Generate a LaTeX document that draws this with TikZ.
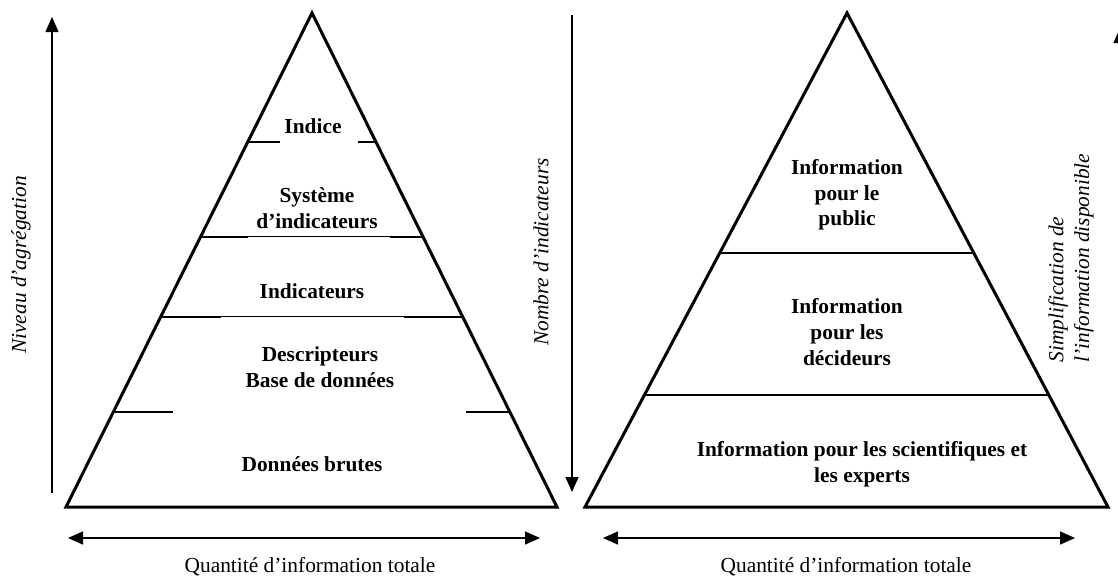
\documentclass[tikz,border=0pt]{standalone}
\usepackage{fontspec}
\setmainfont{Liberation Serif}
\usetikzlibrary{arrows.meta,calc,positioning}

\begin{document}
\begin{tikzpicture}[x=0.5pt,y=-0.5pt,
    every node/.style={font=\fontsize{10.7}{12.8}\selectfont, inner sep=0pt},
    level/.style={font=\fontsize{10.7}{12.8}\selectfont\bfseries, align=center},
    axis/.style={font=\fontsize{10.7}{12.8}\selectfont\itshape, rotate=90, align=left},
    axe/.style={-{Triangle[length=7.5pt,width=6.5pt]}, line width=0.75pt},
    axes/.style={{Triangle[length=7.5pt,width=6.5pt]}-{Triangle[length=7.5pt,width=6.5pt]}, line width=0.75pt},
    pyr/.style={line width=1.5pt, line join=miter},
    cut/.style={line width=1pt},
    fine/.style={line width=0.5pt}]
  \useasboundingbox (0,0) rectangle (1118,579);

  % left pyramid
  \coordinate (ltop) at (312,13);
  \coordinate (lbl) at (66,507);
  \coordinate (lbr) at (557,507);
  \draw[pyr] (ltop) -- (lbl) -- (lbr) -- cycle;

  \draw[cut] ($(ltop)!0.261!(lbl)$) -- ++(32,0);
  \draw[cut] ($(ltop)!0.261!(lbr)$) -- ++(-18,0);
  \draw[fine] ($(ltop)!0.453!(lbl)$) -- ($(ltop)!0.453!(lbr)$);
  \draw[cut] ($(ltop)!0.453!(lbl)$) -- ++(47,0);
  \draw[cut] ($(ltop)!0.453!(lbr)$) -- ++(-33,0);
  \draw[fine] ($(ltop)!0.615!(lbl)$) -- ($(ltop)!0.615!(lbr)$);
  \draw[cut] ($(ltop)!0.615!(lbl)$) -- ++(60,0);
  \draw[cut] ($(ltop)!0.615!(lbr)$) -- ++(-59,0);
  \draw[cut] ($(ltop)!0.808!(lbl)$) -- ++(60,0);
  \draw[cut] ($(ltop)!0.808!(lbr)$) -- ++(-44,0);

  \node[level] (indice) at (313,126) {Indice};
  \node[level] (systeme) at (317,208) {Système\\d’indicateurs};
  \node[level] (indic) at (312,291) {Indicateurs};
  \node[level] (descr) at (320,367) {Descripteurs\\Base de données};
  \node[level] (brutes) at (312,464) {Données brutes};

  \coordinate (niv0) at (52,493);
  \coordinate (niv1) at (52,17);
  \draw[axe] (niv0) -- (niv1);
  \node[axis] (niveau) at (21,265) {Niveau d’agrégation};

  \coordinate (lq0) at (68,538);
  \coordinate (lq1) at (540,538);
  \draw[axes] (lq0) -- (lq1);
  \node (lquant) at (310,567) {Quantité d’information totale};

  % right pyramid
  \coordinate (rtop) at (847,13);
  \coordinate (rbl) at (585,507);
  \coordinate (rbr) at (1108,507);
  \draw[pyr] (rtop) -- (rbl) -- (rbr) -- cycle;
  \draw[line width=0.8pt] ($(rtop)!0.486!(rbl)$) -- ($(rtop)!0.486!(rbr)$);
  \draw[line width=0.8pt] ($(rtop)!0.773!(rbl)$) -- ($(rtop)!0.773!(rbr)$);

  \node[level] (public) at (847,195) {Information\\pour le\\public};
  \node[level] (decid) at (847,332) {Information\\pour les\\décideurs};
  \node[level] (experts) at (862,464) {Information pour les scientifiques et\\les experts};

  \coordinate (nb0) at (572,15);
  \coordinate (nb1) at (572,492);
  \draw[axe] (nb0) -- (nb1);
  \node[axis] (nombre) at (541,252) {Nombre d’indicateurs};

  \coordinate (si0) at (1120,493);
  \coordinate (si1) at (1120,28);
  \draw[axe] (si0) -- (si1);
  \node[axis] (simpl) at (1071,258) {Simplification de\\l’information disponible};

  \coordinate (rq0) at (603,538);
  \coordinate (rq1) at (1075,538);
  \draw[axes] (rq0) -- (rq1);
  \node (rquant) at (846,567) {Quantité d’information totale};
\end{tikzpicture}
\end{document}
